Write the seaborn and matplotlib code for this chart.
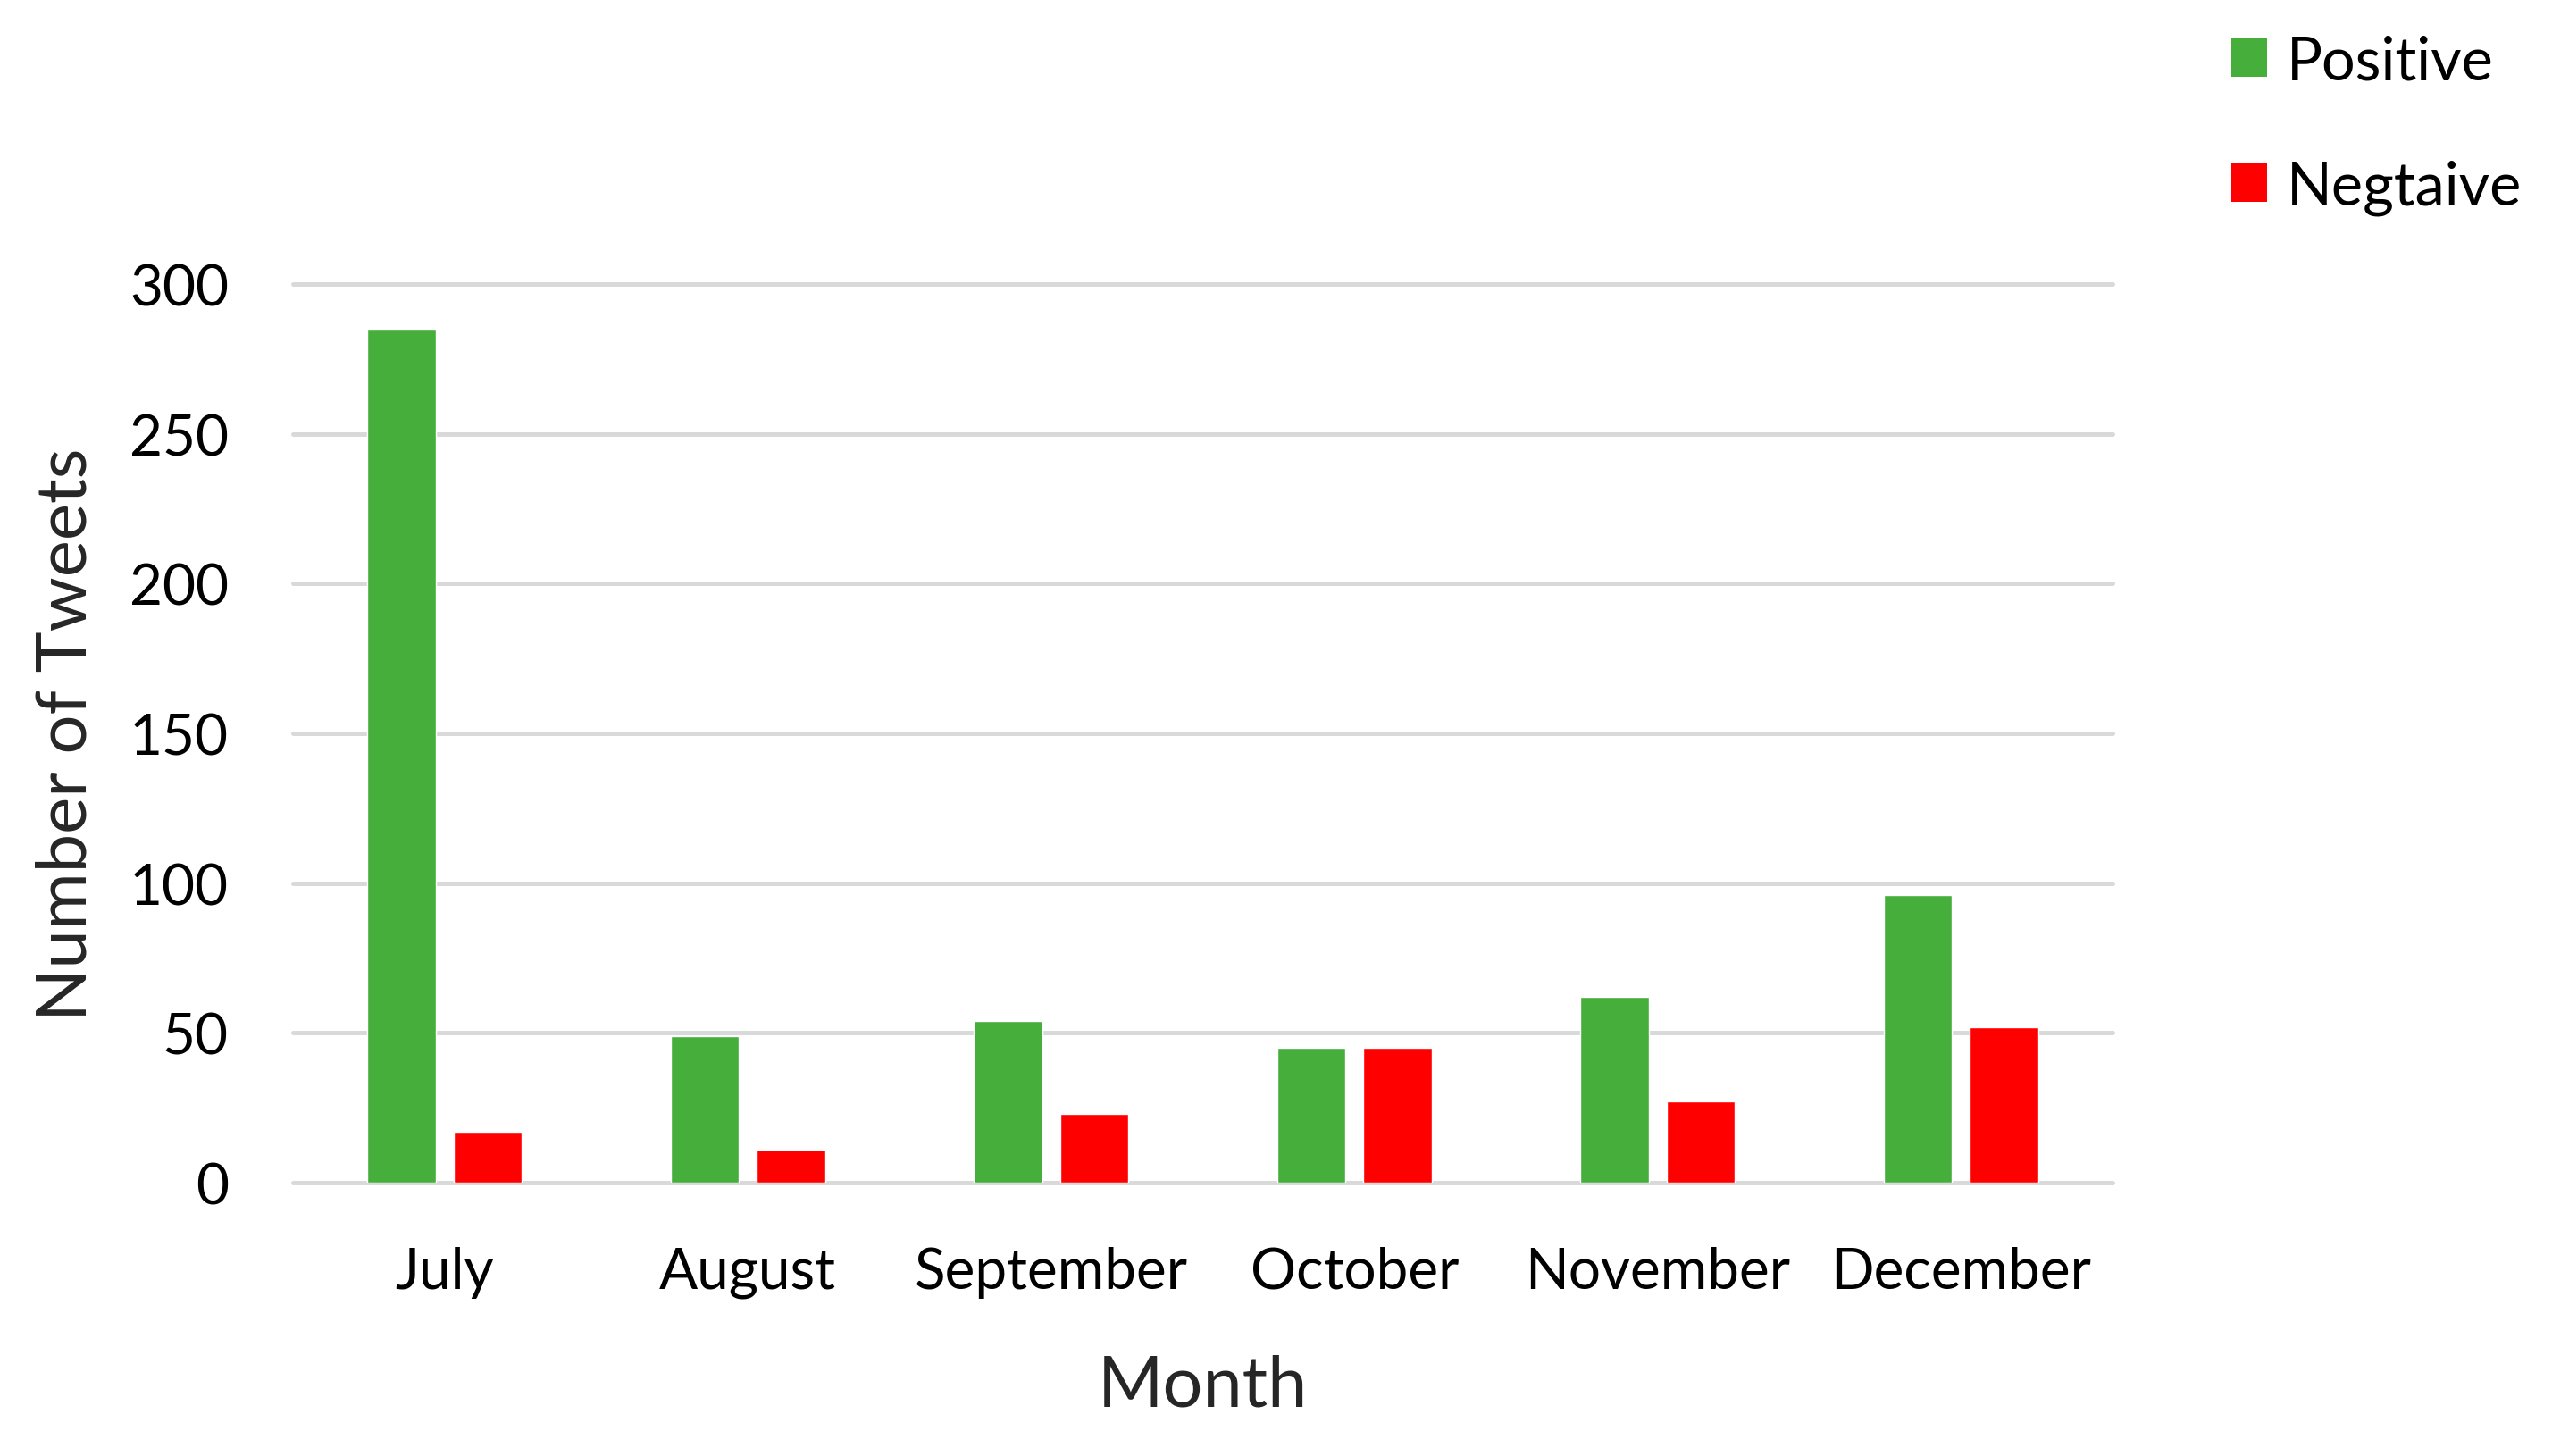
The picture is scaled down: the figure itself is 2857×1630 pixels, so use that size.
import pandas as pd
import seaborn as sns
import matplotlib.pyplot as plt
from matplotlib.patches import Patch

# Data
months = ['July', 'August', 'September', 'October', 'November', 'December']
positive = [285, 49, 54, 45, 62, 96]
negative = [17, 11, 23, 45, 27, 52]
series_names = ['Positive', 'Negtaive']
y_ticks = [0, 50, 100, 150, 200, 250, 300]

colors = {'Positive': '#46AF3C', 'Negtaive': '#FF0000'}

df = pd.DataFrame({
    'Month': months * 2,
    'Tweets': positive + negative,
    'Sentiment': [series_names[0]] * len(months) + [series_names[1]] * len(months),
})

sns.set_theme(style='white')
plt.rcParams['font.family'] = ['Lato', 'DejaVu Sans']
plt.rcParams['text.color'] = 'black'
plt.rcParams['xtick.color'] = 'black'
plt.rcParams['ytick.color'] = 'black'

fig = plt.figure(figsize=(28.57, 16.31), dpi=100)
ax = fig.add_axes([0.1148, 0.1876, 0.8278 - 0.1148, 0.8044 - 0.1876])

sns.barplot(data=df, x='Month', y='Tweets', hue='Sentiment', order=months,
            hue_order=series_names, palette=colors, width=0.57, gap=0.21,
            errorbar=None, saturation=1, legend=False, ax=ax)

# Axes styling
ax.set_ylim(0, 300)
ax.set_yticks(y_ticks)
ax.set_xlim(-0.5, len(months) - 0.5)
for s in ax.spines.values():
    s.set_visible(False)
ax.set_axisbelow(True)
ax.yaxis.grid(True, color='#D9D9D9', linewidth=3.6)
ax.xaxis.grid(False)
for line in ax.get_ygridlines():
    line.set_clip_on(False)
ax.tick_params(axis='both', length=0, labelsize=46)
ax.tick_params(axis='y', pad=52)
ax.tick_params(axis='x', pad=51)

ax.set_xlabel('Month', fontsize=57)
ax.set_ylabel('Number of Tweets', fontsize=56)
ax.xaxis.set_label_coords(0.5, -0.19)
ax.yaxis.set_label_coords(-0.107, 0.5)

# Legend at the top right
handles = [Patch(facecolor=colors[n], edgecolor='none', label=n) for n in series_names]
fig.legend(handles=handles, loc='upper left', bbox_to_anchor=(0.8743, 0.976),
           frameon=False, fontsize=48, handlelength=0.6, handleheight=0.6,
           handletextpad=0.33, labelspacing=1.17, borderpad=0, borderaxespad=0)

fig.savefig('out.png', dpi=100, facecolor='white')
